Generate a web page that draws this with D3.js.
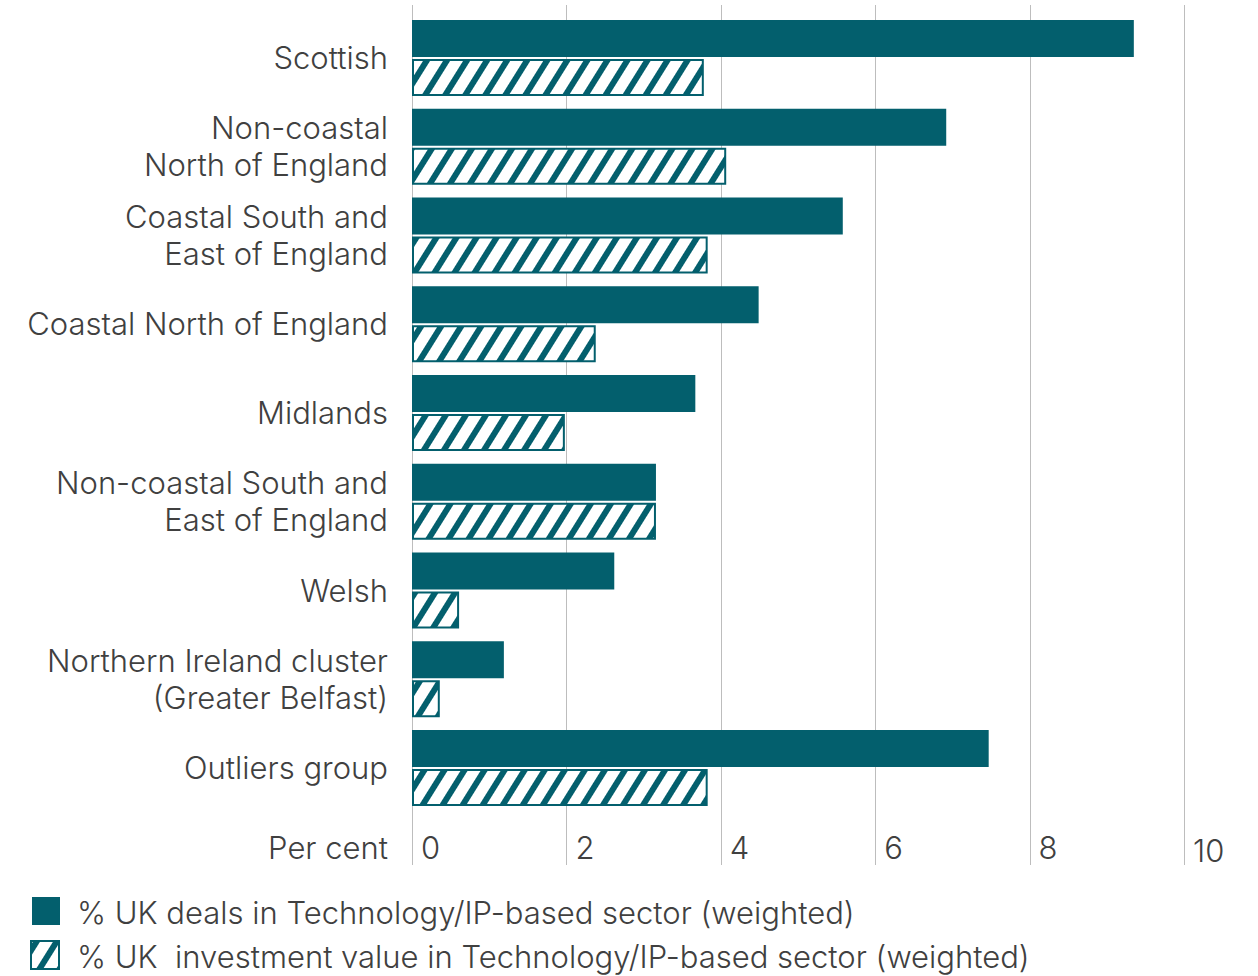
<!DOCTYPE html>
<html>
<head>
<meta charset="utf-8">
<script src="https://cdn.jsdelivr.net/npm/d3@7"></script>
<style>
  html, body { margin: 0; padding: 0; background: #fff; }
  svg { display: block; }
  text { font-family: Inter, "Open Sans", sans-serif; font-weight: 300; fill: #404040; }
</style>
</head>
<body>
<svg id="chart" width="1258" height="976"></svg>
<script>
// Regional clusters, top to bottom
const categories = [
  ["Scottish"],
  ["Non-coastal", "North of England"],
  ["Coastal South and", "East of England"],
  ["Coastal North of England"],
  ["Midlands"],
  ["Non-coastal South and", "East of England"],
  ["Welsh"],
  ["Northern Ireland cluster", "(Greater Belfast)"],
  ["Outliers group"]
];
// % UK deals in Technology/IP-based sector (weighted)
const dealsShare = [9.35, 6.92, 5.58, 4.49, 3.67, 3.16, 2.62, 1.19, 7.47];
// % UK investment value in Technology/IP-based sector (weighted)
const valueShare = [3.78, 4.07, 3.83, 2.38, 1.98, 3.16, 0.61, 0.36, 3.83];
const xTicks = [0, 2, 4, 6, 8, 10];
const seriesNames = [
  "% UK deals in Technology/IP-based sector (weighted)",
  "% UK  investment value in Technology/IP-based sector (weighted)"
];
const axisTitle = "Per cent";

const teal = "#035f6d";
const fontSize = 31;
const svg = d3.select("#chart");

const keys = categories.map(c => c.join(" "));
const x = d3.scaleLinear().domain([0, 10]).range([412, 1184]);
const y = d3.scaleBand().domain(keys).range([20, 806]).paddingInner(0.1437).paddingOuter(0);
const barH = (y.bandwidth() - 2) / 2;

// Diagonal hatch fill
const defs = svg.append("defs");
const pat = defs.append("pattern")
  .attr("id", "hatch")
  .attr("patternUnits", "userSpaceOnUse")
  .attr("width", 17).attr("height", 17)
  .attr("patternTransform", "rotate(32)");
pat.append("rect").attr("width", 17).attr("height", 17).attr("fill", "#fff");
pat.append("rect").attr("x", 0).attr("y", 0).attr("width", 6).attr("height", 17).attr("fill", teal);

// Vertical gridlines
svg.append("g")
  .selectAll("line")
  .data(xTicks)
  .join("line")
  .attr("x1", d => Math.round(x(d)) + 0.5)
  .attr("x2", d => Math.round(x(d)) + 0.5)
  .attr("y1", 5).attr("y2", 865)
  .attr("stroke", "#bdbdbd").attr("stroke-width", 1);

// Tick labels
svg.append("g")
  .selectAll("text")
  .data(xTicks)
  .join("text")
  .attr("x", d => x(d) + 9)
  .attr("y", d => d === 10 ? 862 : 859)
  .attr("font-size", fontSize)
  .text(d => d);

svg.append("text")
  .attr("x", 388).attr("y", 859)
  .attr("text-anchor", "end")
  .attr("font-size", fontSize)
  .text(axisTitle);

// Bars
const g = svg.append("g");
g.selectAll("rect.deals")
  .data(dealsShare)
  .join("rect")
  .attr("class", "deals")
  .attr("x", x(0))
  .attr("y", (d, i) => y(keys[i]))
  .attr("width", d => x(d) - x(0))
  .attr("height", barH)
  .attr("fill", teal);

g.selectAll("rect.value")
  .data(valueShare)
  .join("rect")
  .attr("class", "value")
  .attr("x", x(0) + 1)
  .attr("y", (d, i) => y(keys[i]) + barH + 2 + 1)
  .attr("width", d => x(d) - x(0) - 2)
  .attr("height", barH - 2)
  .attr("fill", "url(#hatch)")
  .attr("stroke", teal)
  .attr("stroke-width", 2);

// Category labels
const lineH = 37;
svg.append("g")
  .selectAll("text")
  .data(categories)
  .join("text")
  .attr("text-anchor", "end")
  .attr("font-size", fontSize)
  .each(function (lines, i) {
    const cy = y(keys[i]) + y.bandwidth() / 2;
    const t = d3.select(this);
    lines.forEach((ln, j) => {
      t.append("tspan")
        .attr("x", 388)
        .attr("y", cy + (j - (lines.length - 1) / 2) * lineH + 11)
        .text(ln);
    });
  });

// Legend
const lg = svg.append("g");
lg.append("rect").attr("x", 32).attr("y", 897).attr("width", 28).attr("height", 28).attr("fill", teal);
lg.append("rect").attr("x", 31).attr("y", 941).attr("width", 28).attr("height", 28)
  .attr("fill", "url(#hatch)").attr("stroke", teal).attr("stroke-width", 2);
lg.selectAll("text")
  .data(seriesNames)
  .join("text")
  .attr("x", 77)
  .attr("y", (d, i) => 924 + i * 44)
  .attr("font-size", fontSize)
  .attr("xml:space", "preserve")
  .style("white-space", "pre")
  .text(d => d);
</script>
</body>
</html>
